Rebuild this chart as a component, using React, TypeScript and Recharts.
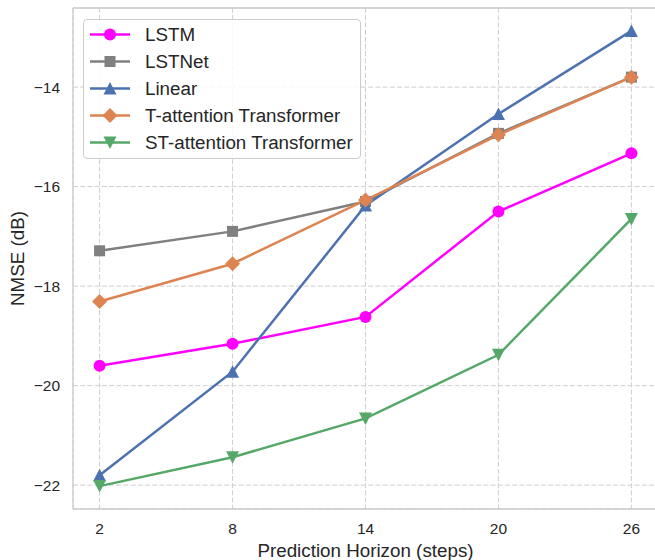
import React from 'react';
import {
    LineChart,
    Line,
    XAxis,
    YAxis,
    CartesianGrid,
    Legend,
    ReferenceLine,
} from 'recharts';

// prediction horizons (x axis)
const horizons = [2, 8, 14, 20, 26];

// NMSE (dB) per model
const lstm = [-19.6, -19.16, -18.62, -16.5, -15.33];
const lstnet = [-17.29, -16.9, -16.3, -14.93, -13.8];
const linear = [-21.8, -19.72, -16.38, -14.54, -12.87];
const tAttention = [-18.31, -17.55, -16.27, -14.96, -13.8];
const stAttention = [-22.02, -21.44, -20.66, -19.38, -16.65];

const xTicks = [2, 8, 14, 20, 26];
const yTicks = [-22, -20, -18, -16, -14];

const series = [
    { key: 'lstm', name: 'LSTM', color: '#ff00ff', shape: 'circle', values: lstm },
    { key: 'lstnet', name: 'LSTNet', color: '#808080', shape: 'square', values: lstnet },
    { key: 'linear', name: 'Linear', color: '#4c72b0', shape: 'triangle', values: linear },
    { key: 'tatt', name: 'T-attention Transformer', color: '#dd8452', shape: 'diamond', values: tAttention },
    { key: 'statt', name: 'ST-attention Transformer', color: '#55a868', shape: 'triangleDown', values: stAttention },
];

const chartData = horizons.map((h, i) => {
    const row: any = { h };
    series.forEach((s) => {
        row[s.key] = s.values[i];
    });
    return row;
});

const TEXT = '#262626';
const SPINE = '#cccccc';
const LABEL_SIZE = 18.8;

// matplotlib-like markers
const Marker = ({ cx, cy, shape, color }: any) => {
    if (cx == null || cy == null) return null;
    switch (shape) {
        case 'circle':
            return <circle cx={cx} cy={cy} r={6} fill={color} />;
        case 'square':
            return <rect x={cx - 5.5} y={cy - 5.5} width={11} height={11} fill={color} />;
        case 'triangle':
            return <polygon points={`${cx},${cy - 6.5} ${cx - 6.5},${cy + 6} ${cx + 6.5},${cy + 6}`} fill={color} />;
        case 'triangleDown':
            return <polygon points={`${cx},${cy + 6.5} ${cx - 6.5},${cy - 6} ${cx + 6.5},${cy - 6}`} fill={color} />;
        case 'diamond':
            return <polygon points={`${cx},${cy - 7.5} ${cx + 7.5},${cy} ${cx},${cy + 7.5} ${cx - 7.5},${cy}`} fill={color} />;
        default:
            return null;
    }
};

const LegendBox = () => (
    <div
        style={{
            border: `1px solid ${SPINE}`,
            borderRadius: 4,
            background: 'rgba(255,255,255,0.85)',
            width: 276,
            height: 137,
            paddingTop: 1,
            boxSizing: 'content-box',
        }}
    >
        {series.map((s) => (
            <div key={s.key} style={{ display: 'flex', alignItems: 'center', height: 27 }}>
                <svg width={40} height={27} style={{ marginLeft: 6, flexShrink: 0 }}>
                    <line x1={0} y1={13.5} x2={40} y2={13.5} stroke={s.color} strokeWidth={2.5} />
                    <Marker cx={20} cy={13.5} shape={s.shape} color={s.color} />
                </svg>
                <span style={{ marginLeft: 15, fontSize: LABEL_SIZE, color: TEXT, whiteSpace: 'nowrap' }}>{s.name}</span>
            </div>
        ))}
    </div>
);

const XLabel = ({ viewBox }: any) => (
    <text
        x={viewBox.x + viewBox.width / 2}
        y={viewBox.y + 47.5}
        textAnchor="middle"
        fontSize={LABEL_SIZE}
        fill={TEXT}
    >
        Prediction Horizon (steps)
    </text>
);

const YLabel = ({ viewBox }: any) => {
    const x = viewBox.x + 24;
    const y = viewBox.y + viewBox.height / 2;
    return (
        <text x={x} y={y} transform={`rotate(-90 ${x} ${y})`} textAnchor="middle" fontSize={LABEL_SIZE} fill={TEXT}>
            NMSE (dB)
        </text>
    );
};

export default function App() {
    return (
        <div
            style={{
                position: 'absolute',
                left: 0,
                top: 0,
                width: 655,
                height: 560,
                overflow: 'hidden',
                background: '#fff',
                fontFamily: '"Liberation Sans", Arial, sans-serif',
            }}
        >
            <LineChart width={665} height={560} data={chartData} margin={{ top: 8, right: 7, bottom: 0, left: 0 }}>
                <CartesianGrid stroke="#cfcfcf" strokeDasharray="5 2.2" strokeWidth={1} />
                <XAxis
                    dataKey="h"
                    type="number"
                    domain={[0.8, 27.2]}
                    ticks={xTicks}
                    height={51}
                    tickLine={false}
                    tickSize={0}
                    tickMargin={14}
                    axisLine={{ stroke: SPINE, strokeWidth: 1.3 }}
                    tick={{ fontSize: 15.5, fill: TEXT }}
                    label={{ content: <XLabel /> }}
                />
                <YAxis
                    type="number"
                    domain={[-22.48, -12.41]}
                    ticks={yTicks}
                    width={73}
                    tickLine={false}
                    tickSize={0}
                    tickMargin={13}
                    axisLine={{ stroke: SPINE, strokeWidth: 1.3 }}
                    tick={{ fontSize: 15.5, fill: TEXT }}
                    tickFormatter={(v) => String(v).replace('-', '\u2212')}
                    label={{ content: <YLabel /> }}
                />
                <ReferenceLine y={-12.41} stroke={SPINE} strokeWidth={1.3} />
                <Legend
                    layout="vertical"
                    align="center"
                    verticalAlign="middle"
                    content={<LegendBox />}
                    wrapperStyle={{ top: 19, left: 83, width: 'auto', height: 'auto' }}
                />
                {series.map((s) => (
                    <Line
                        key={s.key}
                        dataKey={s.key}
                        name={s.name}
                        stroke={s.color}
                        strokeWidth={2.5}
                        isAnimationActive={false}
                        activeDot={false}
                        dot={(p: any) => <Marker key={`${s.key}-${p.index}`} cx={p.cx} cy={p.cy} shape={s.shape} color={s.color} />}
                    />
                ))}
            </LineChart>
        </div>
    );
}
